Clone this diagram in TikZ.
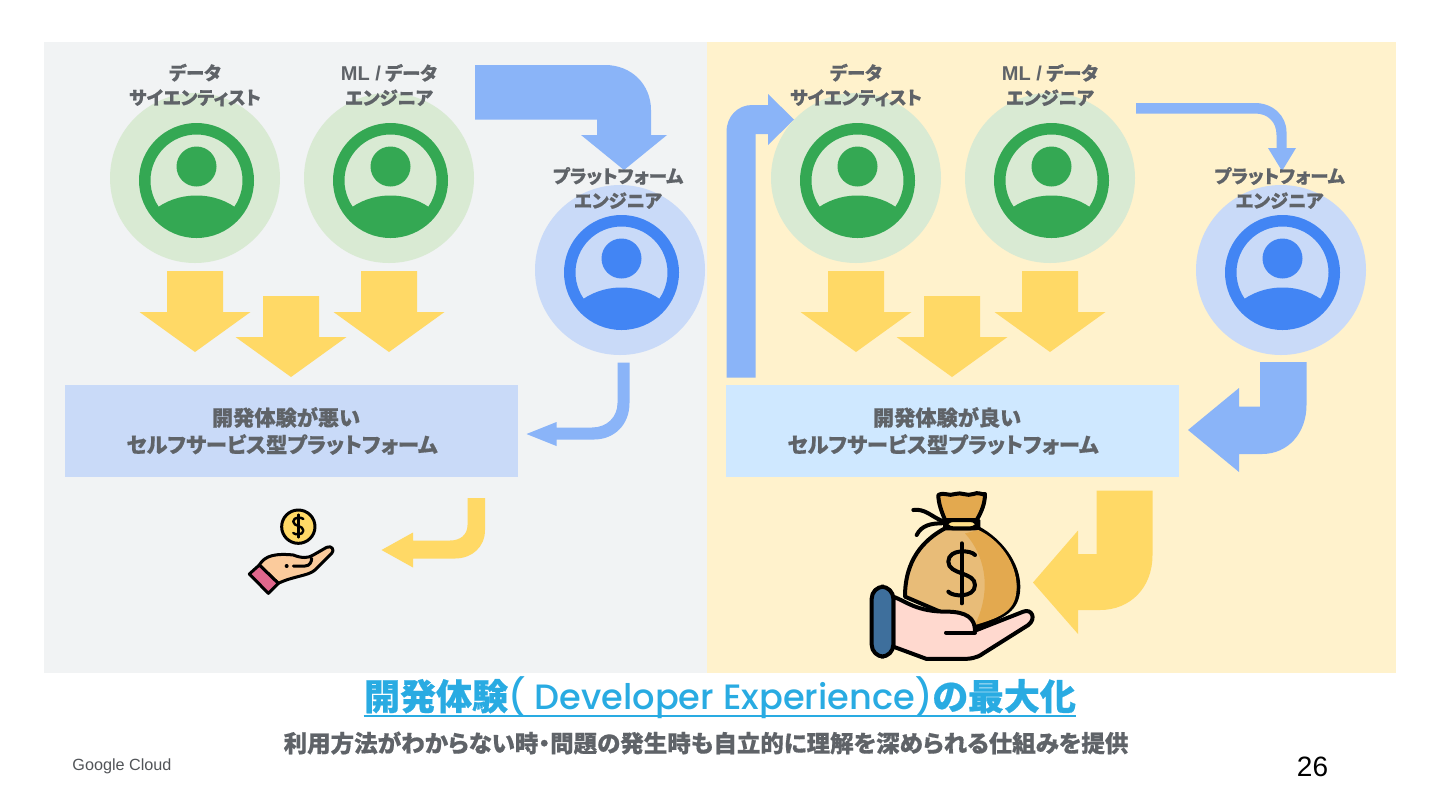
\documentclass[tikz,border=0pt]{standalone}
\usepackage{fontspec}
\usepackage{xcolor}
\newfontfamily\jpfont{Noto Sans CJK JP}[RawFeature={+palt},BoldFeatures={FakeBold=0.6}]
\newfontfamily\latinfont{Liberation Sans}
\newfontfamily\titlefont{Poppins Medium}
\definecolor{panelgray}{HTML}{F1F3F4}
\definecolor{panelcream}{HTML}{FFF2CC}
\definecolor{boxblue}{HTML}{C9DAF8}
\definecolor{boxsky}{HTML}{CFE8FF}
\definecolor{arrowblue}{HTML}{8AB4F8}
\definecolor{arrowyellow}{HTML}{FFD966}
\definecolor{discgreen}{HTML}{D9EAD3}
\definecolor{ringgreen}{HTML}{34A853}
\definecolor{discblue}{HTML}{C9DAF8}
\definecolor{ringblue}{HTML}{4285F4}
\definecolor{labelgray}{HTML}{5F6368}
\definecolor{titleblue}{HTML}{29ABE2}
\definecolor{peachhand}{HTML}{FBCB9C}
\definecolor{pinkcuff}{HTML}{E0678C}
\definecolor{baglight}{HTML}{E8BC78}
\definecolor{bagdark}{HTML}{E3A94F}
\definecolor{bandyellow}{HTML}{FFE08A}
\definecolor{handpink}{HTML}{FFD9CF}
\definecolor{cuffblue}{HTML}{3E6F9C}
\tikzset{
  personlabel/.style={text=labelgray,align=center,inner sep=0,font=\jpfont\bfseries\fontsize{9.2}{12.3}\selectfont},
  boxlabel/.style={text=labelgray,align=center,inner sep=0,font=\jpfont\bfseries\fontsize{10.6}{13.5}\selectfont},
  ink/.style={draw=black,line join=round,line cap=round}
}
\newcommand{\dollarmark}{
  \draw[ink] (40,-55) .. controls (30,-70) and (-40,-75) .. (-40,-35) .. controls (-40,5) and (40,-5) .. (40,35) .. controls (40,75) and (-30,70) .. (-40,55);
  \draw[ink] (0,-90) -- (0,90);
}

\begin{document}
\begin{tikzpicture}[x=0.5pt,y=-0.5pt]
\useasboundingbox (0,0) rectangle (1440,810);
% panels
\fill[panelgray] (44,42) rectangle (707,673);
\fill[panelcream] (707,42) rectangle (1396,673);
\fill[boxblue] (65,385) rectangle (518,477);
\fill[boxsky] (726,385) rectangle (1179,477);
% people
\foreach \x/\y/\disccol/\ringcol in {195/178/discgreen/ringgreen,389/178/discgreen/ringgreen,620/270/discblue/ringblue,856/178/discgreen/ringgreen,1050/178/discgreen/ringgreen,1281/270/discblue/ringblue}{
  \fill[\disccol] (\x,\y) circle (85);
  \begin{scope}[shift={(\x,\y)},shift={(1.5,2.5)}]
    \fill[\ringcol,even odd rule] (0,0) circle (57.5) (0,0) circle (46);
    \fill[\ringcol] (0,-14) circle (20);
    \begin{scope}
      \clip (0,0) circle (50);
      \fill[\ringcol] (0,65) ellipse [x radius=60,y radius=50];
    \end{scope}
  \end{scope}
}
% yellow arrows down
\foreach \x/\y in {195/271,389/271,291/296,856/271,1050/271,952/296}{
  \fill[arrowyellow] (\x-28,\y) -- (\x+28,\y) -- (\x+28,\y+41) -- (\x+55.5,\y+41) -- (\x,\y+81) -- (\x-55.5,\y+41) -- (\x-28,\y+41) -- cycle;
}
% blue arrows
\fill[arrowblue] (475,65) -- (605,65) .. controls (632,65) and (651,85) .. (651,110) -- (651,135) -- (667,135) -- (624,170) -- (581,135) -- (597,135) -- (597,119.5) -- (475,119.5) -- cycle;
\fill[arrowblue] (726.5,377.5) -- (726.5,132) .. controls (726.5,116) and (738,105) .. (752,105) -- (768,105) -- (768,94) -- (794,119.5) -- (768,145) -- (768,134) -- (755.5,134) -- (755.5,377.5) -- cycle;
\fill[arrowblue] (1136,103) -- (1255,103) .. controls (1273,103) and (1286.5,116) .. (1286.5,132) -- (1286.5,148) -- (1296,148) -- (1282,171) -- (1268,148) -- (1276.5,148) -- (1276.5,135) .. controls (1276.5,122) and (1268,113.5) .. (1255,113.5) -- (1136,113.5) -- cycle;
\fill[arrowblue] (1260,362) -- (1306.5,362) -- (1306.5,405) .. controls (1306.5,433) and (1288,454) .. (1262,454) -- (1239,454) -- (1239,472) -- (1188,430) -- (1239,388) -- (1239,406.5) -- (1260,406.5) -- cycle;
\fill[arrowblue] (617.5,362.5) -- (629.5,362.5) -- (629.5,403) .. controls (629.5,425) and (614,439.5) .. (594,439.5) -- (556.5,439.5) -- (556.5,446) -- (526.5,434) -- (556.5,422) -- (556.5,427.5) -- (592,427.5) .. controls (607,427.5) and (617.5,417) .. (617.5,403) -- cycle;
% yellow arrows round
\fill[arrowyellow] (467.5,498) -- (485,498) -- (485,530) .. controls (485,547) and (472,558.5) .. (455,558.5) -- (413,558.5) -- (413,567.5) -- (381.5,550) -- (413,532.5) -- (413,540.5) -- (450,540.5) .. controls (460,540.5) and (467.5,535) .. (467.5,525) -- cycle;
\fill[arrowyellow] (1096.5,490.5) -- (1152.5,490.5) -- (1152.5,555) .. controls (1152.5,588) and (1130,610) .. (1100,610) -- (1078,610) -- (1078,634) -- (1033,582.5) -- (1078,530.5) -- (1078,554) -- (1096.5,554) -- cycle;
% small hand with coin
\begin{scope}[shift={(230,490)},scale=0.3333,line width=1.5pt]
  \filldraw[ink,fill=arrowyellow] (205,110) circle (50);
  \begin{scope}[shift={(205,108)},scale=0.38,line width=1.2pt]
    \dollarmark
  \end{scope}
  \filldraw[ink,fill=peachhand] (88,225) .. controls (105,195) and (140,190) .. (190,195) .. controls (215,205) and (235,205) .. (250,195) -- (290,172) .. controls (305,165) and (315,180) .. (305,190) -- (255,240) .. controls (235,258) and (190,258) .. (145,280) -- cycle;
  \filldraw[ink,fill=pinkcuff] (58,252) -- (88,225) -- (145,280) -- (115,310) -- cycle;
  \draw[ink] (190,228) -- (225,228) .. controls (240,228) and (245,215) .. (245,205);
  \fill[black] (170,228) circle (6);
\end{scope}
% big hand with bag
\begin{scope}[shift={(860,480)},scale=0.3333,line width=2pt]
  \filldraw[ink,fill=baglight] (255,145) .. controls (190,180) and (135,240) .. (135,350) -- (345,440) .. controls (430,410) and (475,390) .. (475,320) .. controls (475,250) and (420,180) .. (355,145) -- cycle;
  \fill[bagdark] (315,160) .. controls (370,220) and (400,320) .. (345,435) .. controls (430,410) and (470,390) .. (470,320) .. controls (470,250) and (420,180) .. (355,150) -- cycle;
  \filldraw[ink,fill=bagdark] (255,120) .. controls (245,95) and (235,70) .. (235,45) .. controls (255,35) and (265,50) .. (285,42) .. controls (305,35) and (320,50) .. (340,42) .. controls (355,35) and (365,45) .. (375,42) .. controls (375,70) and (365,95) .. (350,120) -- cycle;
  \filldraw[ink,fill=bandyellow,rounded corners=4pt] (255,120) rectangle (355,145);
  \draw[ink] (160,90) .. controls (195,85) and (215,110) .. (245,122);
  \draw[ink] (170,165) .. controls (185,135) and (215,130) .. (245,130);
  \begin{scope}[shift={(305,280)}]
    \dollarmark
  \end{scope}
  \filldraw[ink,fill=handpink] (100,350) .. controls (140,365) and (170,395) .. (260,395) .. controls (320,395) and (345,415) .. (345,452) -- (490,395) .. controls (515,385) and (530,415) .. (505,435) -- (370,520) .. controls (350,535) and (330,537) .. (300,537) -- (200,537) -- (100,500) -- cycle;
  \draw[ink] (258,458) -- (345,458);
  \filldraw[ink,fill=cuffblue,rounded corners=6pt] (35,320) rectangle (100,530);
\end{scope}
% labels
\node[personlabel] (scientistL) at (195,85) {データ\\サイエンティスト};
\node[personlabel] (engineerL) at (389,85) {{\latinfont\fontsize{10}{12.3}\selectfont ML /} データ\\エンジニア};
\node[personlabel] (platformL) at (618,188) {プラットフォーム\\エンジニア};
\node[personlabel] (scientistR) at (856,85) {データ\\サイエンティスト};
\node[personlabel] (engineerR) at (1050,85) {{\latinfont\fontsize{10}{12.3}\selectfont ML /} データ\\エンジニア};
\node[personlabel] (platformR) at (1279.5,188) {プラットフォーム\\エンジニア};
\node[boxlabel] (badbox) at (282,431) {\hspace*{4pt}開発体験が悪い\\セルフサービス型プラットフォーム};
\node[boxlabel] (goodbox) at (943,431) {\hspace*{4pt}開発体験が良い\\セルフサービス型プラットフォーム};
% footer
\node[inner sep=0,text=titleblue,font=\jpfont\bfseries\fontsize{18}{20}\selectfont] (title) at (720,698) {開発体験{\titlefont\mdseries\fontsize{17.6}{20}\selectfont( Developer Experience)}の最大化};
\draw[titleblue,line width=1.1pt] ([yshift=-3pt]title.base west) -- ([yshift=-3pt]title.base east);
\node[inner sep=0,text=labelgray,font=\jpfont\bfseries\fontsize{11.75}{14}\selectfont] (subtitle) at (706,743) {利用方法がわからない時・問題の発生時も自立的に理解を深められる仕組みを提供};
\node[inner sep=0,anchor=west,text=labelgray!85!black,font=\latinfont\fontsize{8.1}{10}\selectfont] (brand) at (72,766) {Google Cloud};
\node[inner sep=0,text=black,font=\latinfont\fontsize{14}{16}\selectfont] (pagenum) at (1312.5,767) {26};
\end{tikzpicture}
\end{document}
